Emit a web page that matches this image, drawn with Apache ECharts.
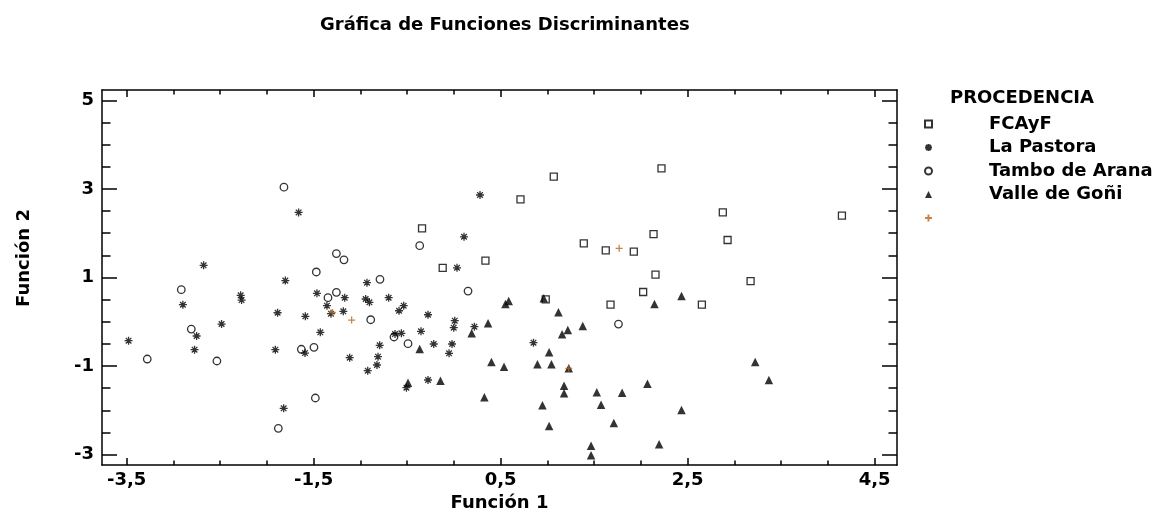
<!DOCTYPE html>
<html><head><meta charset="utf-8">
<script src="https://cdn.jsdelivr.net/npm/echarts@6/dist/echarts.min.js"></script>
<style>html,body{margin:0;padding:0;background:#fff}#c{width:1153px;height:521px}</style>
</head><body><div id="c"></div>
<script>
const FONT = 'DejaVu Sans';
const X_MIN = -3.764, X_MAX = 4.739;
const Y_MIN = -3.233, Y_MAX = 5.234;
const xMajorTicks = [-3.5, -1.5, 0.5, 2.5, 4.5];
const xMinorTicks = [-3.5, -3, -2.5, -2, -1.5, -1, -0.5, 0, 0.5, 1, 1.5, 2, 2.5, 3, 3.5, 4, 4.5];
const yMajorTicks = [-3, -1, 1, 3, 5];
const yMinorTicks = [-3, -2.5, -2, -1.5, -1, -0.5, 0, 0.5, 1, 1.5, 2, 2.5, 3, 3.5, 4, 4.5, 5];
const legendNames = ['FCAyF', 'La Pastora', 'Tambo de Arana', 'Valle de Goñi', ' '];

const fcayf = [[1.068,3.276],[0.712,2.765],[-0.341,2.11],[1.389,1.77],[1.624,1.614],[-0.12,1.22],[0.337,1.38],
  [2.22,3.465],[2.876,2.47],[4.15,2.396],[2.135,1.98],[2.927,1.847],[1.924,1.583],[2.156,1.064],[3.173,0.92],
  [2.024,0.673],[2.652,0.386],[0.982,0.508],[1.675,0.386]];
const laPastora = [[-1.661,2.47],[-2.677,1.275],[0.279,2.863],[0.108,1.92],[0.033,1.22],[-1.803,0.93],[-2.899,0.386],
  [-2.281,0.598],[-2.271,0.49],[-1.886,0.205],[-1.589,0.124],[-1.465,0.643],[-1.168,0.544],[-1.358,0.364],[-1.315,0.183],
  [-1.183,0.237],[-1.429,-0.237],[-2.752,-0.32],[-3.48,-0.426],[-2.485,-0.05],[-2.774,-0.63],[-1.91,-0.63],[-1.593,-0.705],
  [-1.115,-0.81],[-1.821,-1.953],[-0.93,0.883],[-0.944,0.515],[-0.904,0.44],[-0.698,0.544],[-0.587,0.25],[-0.537,0.364],
  [-0.277,0.16],[0.009,0.025],[-0.002,-0.133],[0.219,-0.11],[0.851,-0.471],[-0.794,-0.531],[-0.63,-0.275],[-0.562,-0.26],
  [-0.352,-0.215],[-0.216,-0.501],[-0.02,-0.501],[-0.052,-0.711],[-0.812,-0.788],[-0.823,-0.975],[-0.922,-1.104],
  [-0.508,-1.488],[-0.277,-1.314]];
const tamboArana = [[-1.818,3.04],[-1.257,1.54],[-1.176,1.40],[-1.472,1.125],[-2.916,0.725],[-1.347,0.544],[-1.257,0.666],
  [-2.809,-0.163],[-3.28,-0.84],[-2.535,-0.885],[-1.632,-0.62],[-1.497,-0.576],[-1.482,-1.72],[-1.878,-2.405],[-0.366,1.72],
  [-0.791,0.96],[0.151,0.695],[-0.89,0.047],[-0.641,-0.343],[-0.491,-0.494],[1.76,-0.05]];
const valleGoni = [[2.434,0.583],[2.145,0.40],[3.222,-0.908],[3.369,-1.314],[2.07,-1.397],[1.799,-1.6],[2.434,-1.99],
  [2.195,-2.766],[0.19,-0.26],[0.365,-0.034],[0.551,0.402],[0.586,0.47],[0.961,0.53],[1.118,0.214],[1.218,-0.185],
  [1.157,-0.283],[1.378,-0.095],[1.018,-0.689],[0.893,-0.96],[1.043,-0.96],[1.228,-1.05],[0.401,-0.908],[0.536,-1.013],
  [-0.366,-0.614],[-0.491,-1.375],[-0.144,-1.33],[0.326,-1.705],[1.178,-1.443],[1.178,-1.614],[0.947,-1.885],[1.528,-1.592],
  [1.574,-1.87],[1.018,-2.353],[1.71,-2.285],[1.467,-2.797],[1.467,-3.014]];
const centroids = [[-1.30,0.21],[-1.094,0.04],[1.767,1.66],[1.228,-1.05]];

const txt = {fontFamily: FONT, fontWeight: 'bold', fontSize: 18, color: '#000'};
const lineStyle = {color: '#000', width: 1.5};

function xAxis(pos, major, labels) {
  return {type: 'value', position: pos, min: X_MIN, max: X_MAX,
    axisLine: {show: major, onZero: false, lineStyle},
    axisTick: {show: true, inside: true, length: major ? 7 : 4.5, customValues: major ? xMajorTicks : xMinorTicks, lineStyle},
    axisLabel: {show: labels, customValues: xMajorTicks, margin: 6, formatter: v => String(v).replace('.', ','), ...txt},
    splitLine: {show: false},
    name: labels ? 'Función 1' : '', nameLocation: 'middle', nameGap: 26, nameTextStyle: txt};
}
function yAxis(pos, major, labels) {
  return {type: 'value', position: pos, min: Y_MIN, max: Y_MAX,
    axisLine: {show: major, onZero: false, lineStyle},
    axisTick: {show: true, inside: true, length: major ? 15 : 8.5, customValues: major ? yMajorTicks : yMinorTicks, lineStyle},
    axisLabel: {show: labels, customValues: yMajorTicks, margin: 8, ...txt},
    splitLine: {show: false}};
}

const base = {type: 'scatter', xAxisIndex: 0, yAxisIndex: 0, emphasis: {disabled: true}, silent: true};
const option = {
  animation: false,
  backgroundColor: '#fff',
  title: [
    {text: 'Gráfica de Funciones Discriminantes', left: 320, top: 16, padding: 0, textStyle: txt},
    {text: 'PROCEDENCIA', left: 950, top: 89, padding: 0, textStyle: txt}
  ],
  grid: {left: 102, right: 256, top: 90, bottom: 56, outerBoundsMode: 'none'},
  xAxis: [xAxis('bottom', true, true), xAxis('bottom', false, false), xAxis('top', true, false), xAxis('top', false, false)],
  yAxis: [yAxis('left', true, true), yAxis('left', false, false), yAxis('right', true, false), yAxis('right', false, false)],
  legend: {orient: 'vertical', left: 924, top: 115, padding: 0, itemWidth: 7, itemHeight: 7, itemGap: 5.5,
    data: legendNames, selectedMode: false,
    formatter: n => '{g|}' + n,
    textStyle: {...txt, rich: {g: {width: 52}}}},
  graphic: [{type: 'text', x: 24, y: 258, rotation: Math.PI / 2,
    style: {text: 'Función 2', align: 'center', verticalAlign: 'middle', font: 'bold 18px "DejaVu Sans"', fill: '#000'}}],
  series: [
    {...base, name: legendNames[0], data: fcayf, symbol: 'rect', symbolSize: 7,
      itemStyle: {color: 'rgba(255,255,255,0)', borderColor: '#000', borderWidth: 1.3}},
    {...base, name: legendNames[1], data: laPastora, symbol: 'path://M5 0L5 10M0 5L10 5M1.5 1.5L8.5 8.5M8.5 1.5L1.5 8.5', symbolSize: 8,
      itemStyle: {color: '#000', borderColor: '#000', borderWidth: 1.3}},
    {...base, name: legendNames[2], data: tamboArana, symbol: 'circle', symbolSize: 7.5,
      itemStyle: {color: 'rgba(255,255,255,0)', borderColor: '#000', borderWidth: 1.3}},
    {...base, name: legendNames[3], data: valleGoni, symbol: 'triangle', symbolSize: 8.5,
      itemStyle: {color: '#000', borderColor: '#000', borderWidth: 0}},
    {...base, name: legendNames[4], data: centroids, symbol: 'path://M5 0L5 10M0 5L10 5', symbolSize: 7,
      itemStyle: {color: '#b5651d', borderColor: '#b5651d', borderWidth: 1.3}}
  ]
};
const chart = echarts.init(document.getElementById('c'), null, {renderer: 'canvas'});
chart.setOption(option);
</script></body></html>
